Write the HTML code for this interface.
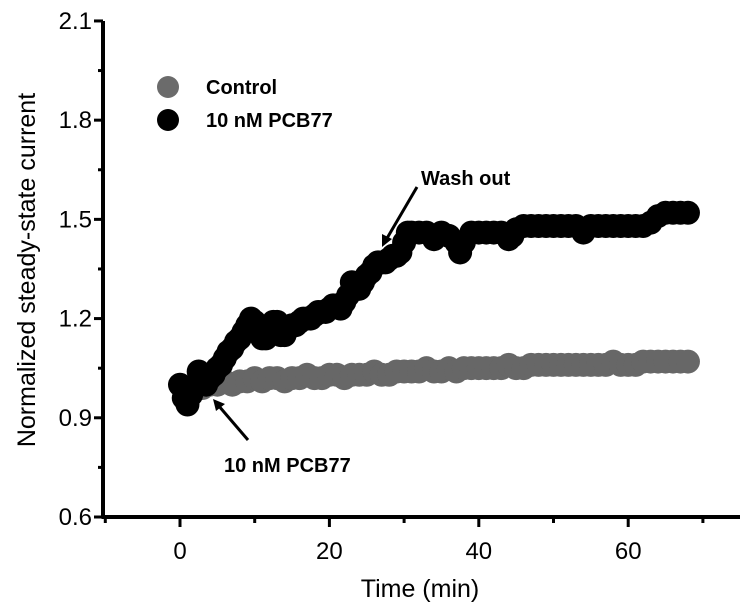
<!DOCTYPE html>
<html><head><meta charset="utf-8"><style>
html,body{margin:0;padding:0;background:#fff;}
svg{display:block;font-family:"Liberation Sans",Arial,sans-serif;}
</style></head><body>
<svg id="chart" width="749" height="610" viewBox="0 0 749 610" xmlns="http://www.w3.org/2000/svg">
<g id="grey"></g>
<g id="blk"></g>
<g id="axes"></g>
<text x="0" y="0" transform="translate(35,270) rotate(-90)" text-anchor="middle" font-size="25" fill="#000">Normalized steady-state current</text>
<text x="420" y="597" text-anchor="middle" font-size="25" fill="#000">Time (min)</text>
<g>
<circle cx="168" cy="87" r="11" fill="#6b6b6b"/>
<text x="206" y="94" font-size="20" font-weight="bold">Control</text>
<circle cx="168" cy="120" r="11" fill="#000"/>
<text x="206" y="127" font-size="20" font-weight="bold">10 nM PCB77</text>
</g>
<g>
<text x="421" y="185" font-size="20" font-weight="bold">Wash out</text>
<line x1="417" y1="187" x2="386" y2="240" stroke="#000" stroke-width="3"/>
<polygon points="382,247 382,234 392,239" fill="#000"/>
</g>
<g>
<text x="224" y="472" font-size="20" font-weight="bold">10 nM PCB77</text>
<line x1="248" y1="440" x2="218" y2="405" stroke="#000" stroke-width="3"/>
<polygon points="213,399 225,404 216,411" fill="#000"/>
</g>
</svg>
<script>
const blackTimes=[0,0.5,1,1.5,2,2.5,3,3.5,4,4.5,5,5.5,6,6.5,7,7.5,8,8.5,9,9.5,10,10.5,11,11.5,12,12.5,13,13.5,14,14.5,15,15.5,16,16.5,17,17.5,18,18.5,19,19.5,20,20.5,21,21.5,22,22.5,23,23.5,24,24.5,25,25.5,26,26.5,27,27.5,28,28.5,29,29.5,30,30.5,31,32,33,34,35,36,37,37.5,38,39,40,41,42,43,44,44.5,45,46,47,48,49,50,51,52,53,54,55,56,57,58,59,60,61,62,63,64,65,66,67,68];
const blackValues=[1.0,0.96,0.94,0.97,1.0,1.04,1.02,1.0,1.02,1.03,1.05,1.06,1.08,1.1,1.11,1.13,1.14,1.16,1.18,1.2,1.19,1.16,1.14,1.14,1.16,1.19,1.19,1.15,1.15,1.17,1.18,1.18,1.19,1.2,1.2,1.2,1.21,1.22,1.22,1.22,1.23,1.24,1.24,1.23,1.25,1.27,1.31,1.29,1.29,1.31,1.33,1.34,1.36,1.37,1.37,1.37,1.38,1.39,1.39,1.4,1.43,1.46,1.46,1.46,1.46,1.44,1.46,1.45,1.43,1.4,1.43,1.46,1.46,1.46,1.46,1.46,1.44,1.45,1.47,1.48,1.48,1.48,1.48,1.48,1.48,1.48,1.48,1.46,1.48,1.48,1.48,1.48,1.48,1.48,1.48,1.48,1.49,1.51,1.52,1.52,1.52,1.52];
const greyTimes=[3,4,5,6,7,8,9,10,11,12,13,14,15,16,17,18,19,20,21,22,23,24,25,26,27,28,29,30,31,32,33,34,35,36,37,38,39,40,41,42,43,44,45,46,47,48,49,50,51,52,53,54,55,56,57,58,59,60,61,62,63,64,65,66,67,68];
const greyValues=[0.99,1.0,1.0,1.01,1.0,1.01,1.01,1.02,1.01,1.02,1.02,1.01,1.02,1.02,1.03,1.02,1.02,1.03,1.03,1.02,1.03,1.03,1.03,1.04,1.03,1.03,1.04,1.04,1.04,1.04,1.05,1.04,1.04,1.05,1.04,1.05,1.05,1.05,1.05,1.05,1.05,1.06,1.05,1.05,1.06,1.06,1.06,1.06,1.06,1.06,1.06,1.06,1.06,1.06,1.06,1.07,1.06,1.06,1.06,1.07,1.07,1.07,1.07,1.07,1.07,1.07];
const xTicks=[0,20,40,60];
const xMinor=[-10,10,30,50,70];
const yTicks=[0.6,0.9,1.2,1.5,1.8,2.1];
const yMinor=[0.75,1.05,1.35,1.65,1.95];
const NS="http://www.w3.org/2000/svg";
const X0=103,XR=740,Y0=517;
function xs(t){return 180+t*7.47;}
function ys(v){return 517-(v-0.6)*330.7;}
function mk(tag,parent,attrs){const e=document.createElementNS(NS,tag);for(const k in attrs)e.setAttribute(k,attrs[k]);parent.appendChild(e);return e;}
const grey=document.getElementById('grey'),blk=document.getElementById('blk'),axes=document.getElementById('axes');
greyTimes.forEach((t,i)=>{const c=mk('circle',grey,{cx:xs(t),cy:ys(greyValues[i]),r:12,fill:'#676767'});

});
blackTimes.forEach((t,i)=>{const c=mk('circle',blk,{cx:xs(t),cy:ys(blackValues[i]),r:12,fill:'#000'});

});
const ya=mk('line',axes,{x1:X0,y1:ys(2.1),x2:X0,y2:Y0+1.5,stroke:'#000','stroke-width':4});


const xa=mk('line',axes,{x1:X0-1.5,y1:Y0,x2:XR,y2:Y0,stroke:'#000','stroke-width':4});


yTicks.forEach(v=>{mk('line',axes,{x1:94,y1:ys(v),x2:X0,y2:ys(v),stroke:'#000','stroke-width':3});
const t=mk('text',axes,{x:92,y:ys(v)+8,'text-anchor':'end','font-size':24});t.textContent=v.toFixed(1);

});
yMinor.forEach(v=>mk('line',axes,{x1:98,y1:ys(v),x2:X0,y2:ys(v),stroke:'#000','stroke-width':3}));
xTicks.forEach(v=>{mk('line',axes,{x1:xs(v),y1:Y0,x2:xs(v),y2:Y0+10,stroke:'#000','stroke-width':3});
const t=mk('text',axes,{x:xs(v),y:559,'text-anchor':'middle','font-size':24});t.textContent=v;

});
xMinor.forEach(v=>mk('line',axes,{x1:xs(v),y1:Y0,x2:xs(v),y2:Y0+6,stroke:'#000','stroke-width':3}));
</script>
</body></html>
